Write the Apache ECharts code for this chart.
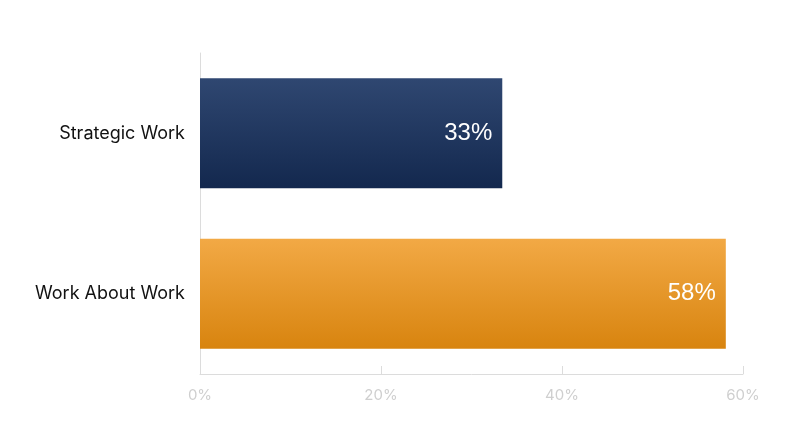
<!DOCTYPE html>
<html>
<head>
<meta charset="utf-8">
<script src="https://cdn.jsdelivr.net/npm/echarts@6/dist/echarts.min.js"></script>
<style>
  html, body { margin: 0; padding: 0; background: #fff; }
  #main { width: 800px; height: 447px; }
</style>
</head>
<body>
<div id="main"></div>
<script>
// data
var categories = ['Work About Work', 'Strategic Work'];
var shares = [58.1, 33.4];
var xTicks = [0, 20, 40, 60];

var navy = new echarts.graphic.LinearGradient(0, 0, 0, 1, [
    { offset: 0, color: '#2f4771' },
    { offset: 1, color: '#13284e' }
]);
var orange = new echarts.graphic.LinearGradient(0, 0, 0, 1, [
    { offset: 0, color: '#f2a945' },
    { offset: 1, color: '#d8840f' }
]);
var barColors = [orange, navy];

var chart = echarts.init(document.getElementById('main'));

var option = {
    animation: false,
    grid: { left: 200, right: 57, top: 53, bottom: 73 },
    xAxis: {
        type: 'value',
        min: xTicks[0],
        max: xTicks[xTicks.length - 1],
        interval: 20,
        axisLine: { show: true, lineStyle: { color: '#dcdcdc', width: 1 } },
        axisTick: { show: true, inside: true, length: 8, lineStyle: { color: '#dcdcdc' } },
        splitLine: { show: false },
        axisLabel: {
            formatter: '{value}%',
            color: '#cfcfcf',
            fontFamily: 'Inter',
            fontSize: 15,
            margin: 14
        }
    },
    yAxis: {
        type: 'category',
        data: categories,
        axisLine: { show: true, lineStyle: { color: '#dcdcdc', width: 1 } },
        axisTick: { show: false },
        axisLabel: {
            color: '#111',
            fontFamily: 'Inter',
            fontSize: 18,
            margin: 15
        }
    },
    series: [{
        type: 'bar',
        barWidth: 110,
        data: shares.map(function (v, i) {
            return { value: v, itemStyle: { color: barColors[i] } };
        }),
        label: {
            show: true,
            position: 'insideRight',
            distance: 10,
            color: '#fff',
            fontFamily: 'Liberation Sans',
            fontSize: 24,
            formatter: function (p) { return Math.round(p.value) + '%'; }
        }
    }]
};

chart.setOption(option);
</script>
</body>
</html>
